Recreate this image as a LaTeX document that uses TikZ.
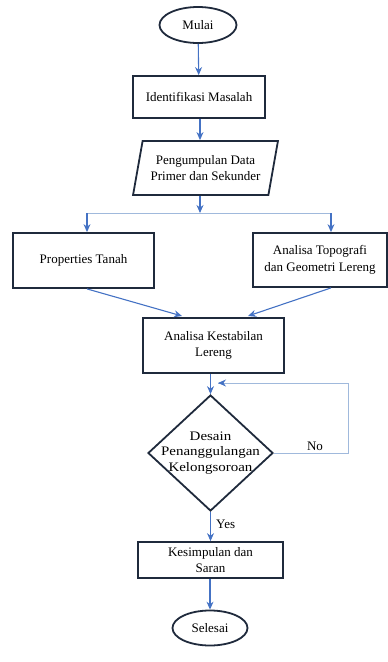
\documentclass[tikz,border=0pt]{standalone}
\usepackage{fontspec}
\setmainfont{Liberation Serif}
\newfontfamily\boxfont{Liberation Serif}
\newfontfamily\widefont[FakeStretch=1.15]{Liberation Serif}
\usetikzlibrary{arrows.meta, shapes.geometric}
\definecolor{DNavy}{HTML}{1F2A3C}
\definecolor{FBlue}{RGB}{ 68, 114, 196 }
\definecolor{LBlue}{RGB}{ 160, 185, 220 }
\tikzset{
    boxtext/.style={align=center, inner sep=0pt, font=\boxfont\fontsize{13}{16.5}\selectfont},
    process/.style={boxtext, draw=DNavy, line width=1.8pt, rectangle},
    terminal/.style={boxtext, draw=DNavy, line width=1.8pt, ellipse},
    inout/.style={boxtext, draw=DNavy, line width=1.8pt, trapezium, trapezium stretches=true,
        trapezium left angle=72, trapezium right angle=108},
    decision/.style={draw=DNavy, line width=1.8pt, diamond, inner sep=0pt},
    flow/.style={FBlue, line width=1.1pt, -{Stealth[length=8pt, width=7pt]}},
    backflow/.style={LBlue, line width=1pt},
}
\begin{document}
\begin{tikzpicture}[x=1pt, y=-1pt]
\useasboundingbox (0,0) rectangle (388,662);

\node[terminal, minimum width=77, minimum height=36] (mulai) at (198,25) {Mulai};
\node[process, minimum width=132, minimum height=42] (ident) at (199,97) {Identifikasi Masalah};
\node[inout, minimum width=145, minimum height=54] (kumpul) at (205.5,168) {Pengumpulan Data\\ Primer dan Sekunder};
\node[process, minimum width=141, minimum height=55] (prop) at (83.5,260.5) {Properties Tanah};
\node[process, minimum width=134, minimum height=54] (topo) at (320,260) {Analisa Topografi\\ dan Geometri Lereng};
\node[process, minimum width=141, minimum height=55] (stabil) at (213.5,345.5) {Analisa Kestabilan\\ Lereng};
\node[decision, minimum width=125, minimum height=116] (desain) at (210.5,453) {};
\node[boxtext, font=\widefont\fontsize{13}{15.5}\selectfont] (desaintext) at (desain) {Desain\\ Penanggulangan\\ Kelongsoroan};
\node[process, minimum width=145, minimum height=36] (kesim) at (210.5,560) {Kesimpulan dan\\ Saran};
\node[terminal, minimum width=75, minimum height=35] (selesai) at (210,628) {Selesai};

\coordinate (split) at (200,213);
\coordinate (split-left) at (87,213);
\coordinate (split-right) at (331,213);
\coordinate (join-left) at (182,316);
\coordinate (join-right) at (248,316);
\coordinate (loop-corner) at (348,383);
\coordinate (loop-end) at (218,383);

\draw[flow] (mulai) -- (ident);
\draw[flow] (ident.south -| split) -- (kumpul.north -| split);
\draw[flow] (kumpul.south -| split) -- (split);
\draw[backflow] (split-left) -- (split-right);
\draw[flow] (split-left) -- (prop.north -| split-left);
\draw[flow] (split-right) -- (topo.north -| split-right);
\draw[flow] (prop.south -| split-left) -- (join-left);
\draw[flow] (topo.south -| split-right) -- (join-right);
\draw[flow] (stabil.south -| desain) -- (desain.north);
\draw[backflow] (desain.east) -- (desain.east -| loop-corner) -- (loop-corner) -- (loop-end);
\draw[flow] ([xshift=2pt]loop-end) -- (loop-end);
\node[boxtext, anchor=south] (no) at (315,451) {No};
\draw[flow] (desain.south) -- (kesim.north -| desain);
\node[boxtext, anchor=west] (yes) at (216,524) {Yes};
\draw[flow] (kesim.south -| selesai) -- (selesai.north);
\end{tikzpicture}
\end{document}
